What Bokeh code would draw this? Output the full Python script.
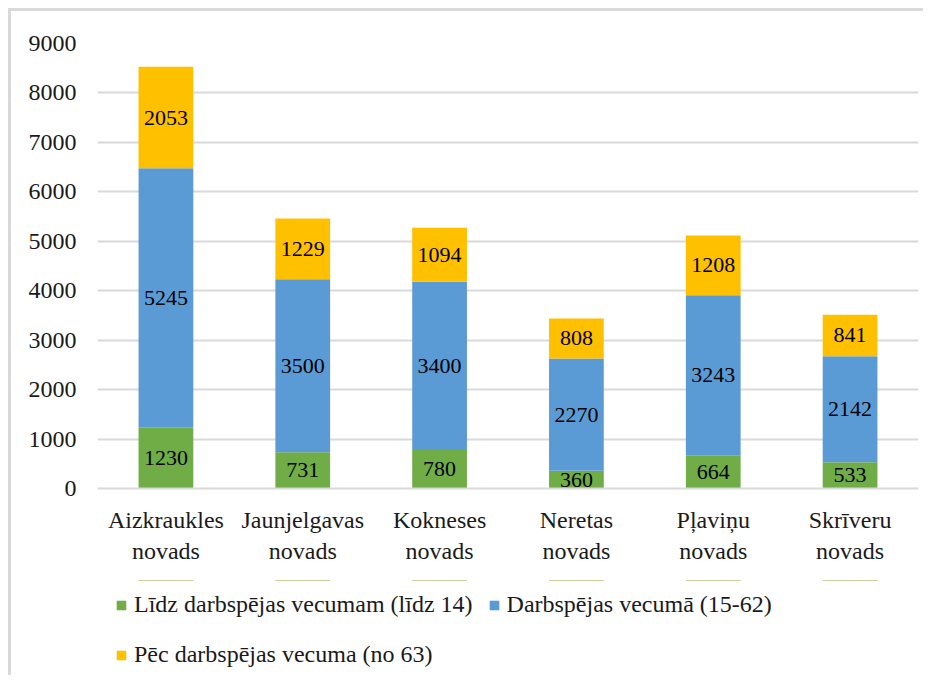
from bokeh.plotting import figure
from bokeh.layouts import column
from bokeh.models import ColumnDataSource, Legend, LegendItem, LabelSet, FactorRange, Range1d, FixedTicker
from bokeh.embed import file_html
from bokeh.resources import INLINE

categories = ["Aizkraukles\nnovads", "Jaunjelgavas\nnovads", "Kokneses\nnovads",
              "Neretas\nnovads", "Pļaviņu\nnovads", "Skrīveru\nnovads"]
young = [1230, 731, 780, 360, 664, 533]
working = [5245, 3500, 3400, 2270, 3243, 2142]
old = [2053, 1229, 1094, 808, 1208, 841]
series_names = ["Līdz darbspējas vecumam (līdz 14)", "Darbspējas vecumā (15-62)",
                "Pēc darbspējas vecuma (no 63)"]
colors = ["#70AD47", "#5B9BD5", "#FFC000"]
y_ticks = [0, 1000, 2000, 3000, 4000, 5000, 6000, 7000, 8000, 9000]

FONT = "Liberation Serif"
FS = "24px"
FS_LAB = "22px"
BORDER = "3px solid #D9D9D9"

source = ColumnDataSource(dict(cat=categories, young=young, working=working, old=old))

# ---- main chart ----
p = figure(x_range=FactorRange(*categories), y_range=Range1d(0, 9000),
           frame_width=818, frame_height=442, output_backend="svg", toolbar_location=None,
           min_border_left=86, min_border_right=8, min_border_top=32, min_border_bottom=95)
p.margin = (8, 0, 0, 8)
p.styles = {"border-top": BORDER, "border-left": BORDER}
p.outline_line_color = None

p.vbar_stack(["young", "working", "old"], x="cat", width=0.4, color=colors,
             line_color=None, source=source)

# data labels at segment midpoints
lab_x, lab_y, lab_t = [], [], []
for i, c in enumerate(categories):
    base = 0
    for v in (young[i], working[i], old[i]):
        lab_x.append(c)
        lab_y.append(base + v / 2)
        lab_t.append(str(v))
        base += v
lsrc = ColumnDataSource(dict(x=lab_x, y=lab_y, t=lab_t))
labels = LabelSet(x="x", y="y", text="t", source=lsrc, text_align="center",
                  text_baseline="middle", text_font=FONT, text_font_size=FS_LAB,
                  text_color="#000000")
p.add_layout(labels)

p.xgrid.grid_line_color = None
p.ygrid.grid_line_color = "#D9D9D9"
p.ygrid.grid_line_width = 2
p.yaxis.ticker = FixedTicker(ticks=y_ticks)
p.yaxis.axis_line_color = None
p.yaxis.major_tick_line_color = None
p.yaxis.minor_tick_line_color = None
p.yaxis.major_label_standoff = 15
p.xaxis.axis_line_color = "#D9D9D9"
p.xaxis.axis_line_width = 2
p.xaxis.major_tick_line_color = None
p.xaxis.minor_tick_line_color = None
p.xaxis.major_label_standoff = 12
for ax in (p.xaxis[0], p.yaxis[0]):
    ax.major_label_text_font = FONT
    ax.major_label_text_font_size = FS
    ax.major_label_text_color = "#1a1a1a"

# ---- legend strip (separate figure so the legend is not clipped) ----
# same stacked series drawn out of view (y range below zero) only to feed the legend glyphs
p2 = figure(x_range=FactorRange(*categories), y_range=Range1d(-2, -1),
            x_axis_type=None, y_axis_type=None,
            frame_width=818, frame_height=95, output_backend="svg", toolbar_location=None,
            min_border_left=86, min_border_right=8, min_border_top=0, min_border_bottom=0)
p2.margin = (0, 0, 0, 8)
p2.styles = {"border-left": BORDER}
p2.outline_line_color = None
p2.xgrid.visible = False
p2.ygrid.visible = False

legend_renderers = p2.vbar_stack(["young", "working", "old"], x="cat", width=0.4,
                                 color=colors, line_color=None, source=source)
items = [LegendItem(label=n, renderers=[r]) for n, r in zip(series_names, legend_renderers)]
legend = Legend(items=items, orientation="horizontal", ncols=2, location=(18, 3),
                label_text_font=FONT, label_text_font_size=FS, label_text_color="#1a1a1a",
                glyph_width=12, glyph_height=12, label_standoff=7, spacing=15,
                label_height=35, padding=0, margin=0, border_line_color=None,
                background_fill_alpha=0)
p2.add_layout(legend, "center")

layout = column(p, p2, spacing=0)
open("out.html", "w").write(file_html(layout, INLINE))
